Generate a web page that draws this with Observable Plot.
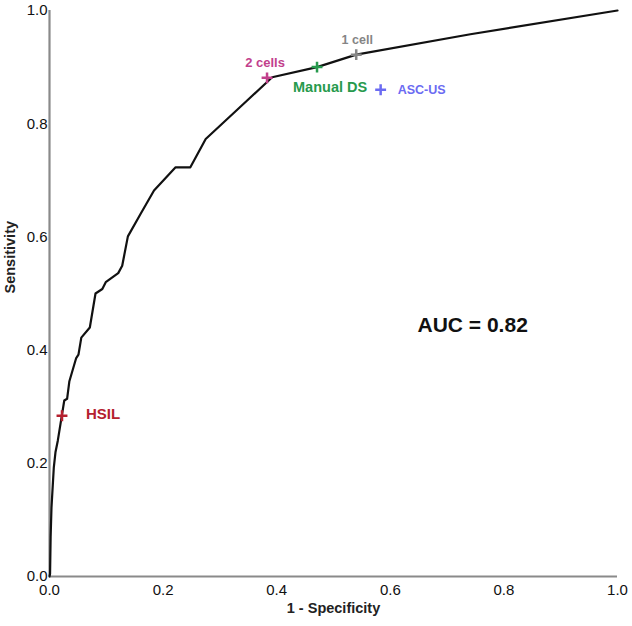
<!DOCTYPE html>
<html>
<head>
<meta charset="utf-8">
<script src="https://cdn.jsdelivr.net/npm/d3@7"></script>
<script src="https://cdn.jsdelivr.net/npm/@observablehq/plot@0.6"></script>
<style>
  html, body { margin: 0; padding: 0; background: #fff; }
  #chart svg { display: block; }
</style>
</head>
<body>
<div id="chart"></div>
<script>
// ROC curve (1 - specificity, sensitivity)
const rocFpr = [0, 0.001, 0.002, 0.0035, 0.0076, 0.0106, 0.0146, 0.022, 0.026, 0.031, 0.035, 0.047, 0.051, 0.056, 0.071, 0.081, 0.093, 0.099, 0.121, 0.128, 0.138, 0.160, 0.184, 0.222, 0.248, 0.275, 0.348, 0.392, 0.471, 0.540, 0.741, 1];
const rocTpr = [0, 0.005, 0.07, 0.122, 0.193, 0.220, 0.240, 0.286, 0.311, 0.314, 0.345, 0.386, 0.392, 0.422, 0.440, 0.500, 0.508, 0.520, 0.536, 0.549, 0.601, 0.640, 0.682, 0.723, 0.723, 0.773, 0.841, 0.882, 0.900, 0.922, 0.958, 1];

// Operating points
const pointNames = ["HSIL", "2 cells", "Manual DS", "1 cell", "ASC-US"];
const pointFpr   = [0.022, 0.383, 0.471, 0.540, 0.583];
const pointTpr   = [0.284, 0.881, 0.900, 0.922, 0.860];
const pointColors = ["#b5202e", "#c2408c", "#279a4d", "#858585", "#6b6bf2"];

const aucText = "AUC = 0.82";
const aucPos = [0.745, 0.443];

const xTicks = [0, 0.2, 0.4, 0.6, 0.8, 1.0];
const yTicks = [0, 0.2, 0.4, 0.6, 0.8, 1.0];

const curve = rocFpr.map((x, i) => ({x, y: rocTpr[i]}));
const points = pointNames.map((name, i) => ({name, x: pointFpr[i], y: pointTpr[i]}));

// label placement (style only)
const labelStyle = {
  "HSIL":      {dx: 24, dy: -2, anchor: "start", size: 15},
  "2 cells":   {dx: -2, dy: -15, anchor: "middle", size: 13},
  "Manual DS": {dx: -24, dy: 20, anchor: "start", size: 14.5},
  "1 cell":    {dx: 1, dy: -15, anchor: "middle", size: 12.5},
  "ASC-US":    {dx: 17, dy: 0, anchor: "start", size: 12.5}
};

const font = "'Liberation Sans', Arial, sans-serif";

const labelMarks = points.map(p => {
  const s = labelStyle[p.name];
  return Plot.text([p], {
    x: "x", y: "y", text: "name", fill: "name",
    dx: s.dx, dy: s.dy, textAnchor: s.anchor,
    fontSize: s.size, fontWeight: "bold", fontFamily: font
  });
});

const chart = Plot.plot({
  width: 632,
  height: 626,
  marginLeft: 49,
  marginRight: 15,
  marginTop: 10,
  marginBottom: 50,
  style: {fontFamily: font, background: "#fff", overflow: "visible"},
  x: {domain: [0, 1]},
  y: {domain: [0, 1]},
  color: {domain: pointNames, range: pointColors},
  marks: [
    Plot.axisX({ticks: xTicks, tickSize: 0, tickPadding: 8, tickFormat: d3.format(".1f"), fontSize: 15, fill: "#111", label: null}),
    Plot.axisY({ticks: yTicks, tickSize: 0, tickPadding: 2, tickFormat: d3.format(".1f"), fontSize: 15, fill: "#111", label: null}),
    Plot.text(["1 - Specificity"], {frameAnchor: "bottom", dy: 36, fontSize: 14.5, fontWeight: "bold", fill: "#222", fontFamily: font}),
    Plot.text(["Sensitivity"], {frameAnchor: "left", dx: -39, rotate: -90, fontSize: 14.5, fontWeight: "bold", fill: "#222", fontFamily: font}),
    Plot.ruleX([0], {stroke: "#8a8a8a", strokeWidth: 2.2}),
    Plot.ruleY([0], {stroke: "#8a8a8a", strokeWidth: 2.2}),
    Plot.line(curve, {x: "x", y: "y", stroke: "#111", strokeWidth: 2.2, strokeLinejoin: "round"}),
    Plot.dot(points, {x: "x", y: "y", symbol: "plus", r: 3.6, stroke: "name", strokeWidth: 2.5}),
    ...labelMarks,
    Plot.text([aucText], {x: () => aucPos[0], y: () => aucPos[1], text: d => d, fontSize: 21, fontWeight: "bold", fill: "#111", fontFamily: font})
  ]
});

document.getElementById("chart").appendChild(chart);
</script>
</body>
</html>
